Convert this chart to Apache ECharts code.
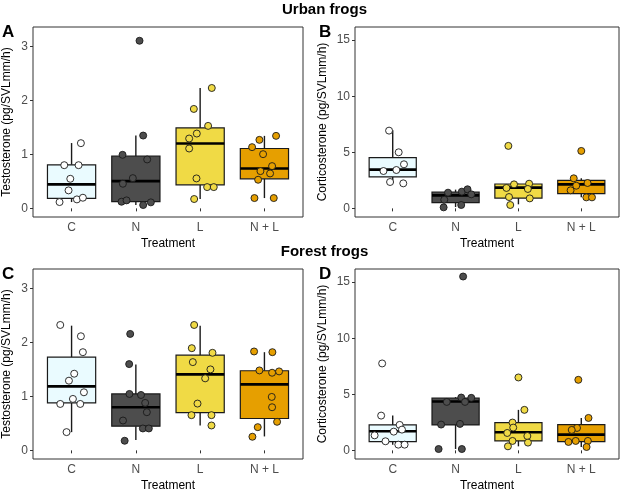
<!DOCTYPE html>
<html><head><meta charset="utf-8">
<script src="https://cdn.jsdelivr.net/npm/echarts@6/dist/echarts.min.js"></script>
<style>html,body{margin:0;padding:0;background:#fff}#c{width:623px;height:494px}</style>
</head><body><div id="c"></div>
<script>
// ---- data ----
const categories = ['C', 'N', 'L', 'N + L'];
const categoryPositions = [1, 2, 3, 4];
const testoTicks = [0, 1, 2, 3];
const cortTicks = [0, 5, 10, 15];

// box stats per treatment: [lower whisker, Q1, median, Q3, upper whisker]
const urbanTestoBox = [
  [0.117, 0.185, 0.444, 0.807, 1.21],
  [0.062, 0.123, 0.505, 0.967, 1.35],
  [0.173, 0.437, 1.201, 1.491, 2.23],
  [0.191, 0.548, 0.739, 1.109, 1.343]
];
const urbanCortBox = [
  [2.23, 2.80, 3.45, 4.52, 6.96],
  [0.12, 0.51, 1.16, 1.46, 1.67],
  [0.36, 0.92, 1.85, 2.17, 2.20],
  [0.98, 1.31, 2.14, 2.50, 2.68]
];
const forestTestoBox = [
  [0.338, 0.879, 1.186, 1.727, 2.31],
  [0.19, 0.449, 0.799, 1.045, 1.592],
  [0.461, 0.701, 1.408, 1.764, 2.31],
  [0.258, 0.59, 1.223, 1.475, 1.819]
];
const forestCortBox = [
  [0.51, 0.78, 1.70, 2.27, 3.10],
  [0.12, 2.27, 4.35, 4.65, 4.75],
  [0.36, 0.84, 1.61, 2.48, 3.61],
  [0.30, 0.78, 1.40, 2.30, 2.89]
];

// individual jittered observations: [jittered treatment position, value]
const urbanTestoC = [[0.813,0.117],[0.886,0.80],[1.109,0.80],[0.98,0.548],[0.953,0.333],[1.083,0.166],[1.176,0.197],[1.145,1.208]];
const urbanTestoN = [[2.057,3.105],[2.114,1.349],[1.793,0.992],[2.176,0.906],[1.953,0.56],[1.798,0.456],[1.777,0.123],[1.855,0.148],[2.114,0.062],[2.233,0.111]];
const urbanTestoL = [[3.181,2.23],[2.902,1.842],[3.124,1.528],[2.948,1.386],[2.829,1.294],[2.829,1.109],[2.943,0.555],[2.907,0.173],[3.109,0.394],[3.212,0.394]];
const urbanTestoNL = [[4.181,1.343],[3.922,1.269],[3.808,1.134],[3.979,1.004],[4.119,0.783],[3.938,0.69],[4.088,0.647],[3.902,0.53],[3.845,0.191],[4.145,0.191]];

const urbanCortC = [[0.942,6.93],[1.095,5.0],[1.179,3.93],[0.853,3.33],[1.058,3.42],[0.958,2.35],[1.168,2.23]];
const urbanCortN = [[1.81,0.09],[1.82,0.77],[1.88,1.40],[2.10,1.49],[2.19,1.70],[2.25,1.25],[2.09,0.30]];
const urbanCortL = [[2.84,5.57],[2.93,2.14],[3.17,2.20],[2.81,1.82],[3.15,1.73],[2.85,1.01],[3.18,0.89],[2.87,0.30]];
const urbanCortNL = [[4.0,5.12],[3.88,2.68],[4.10,2.26],[3.92,2.02],[3.83,1.61],[4.08,0.98],[4.17,0.98]];

const forestTestoC = [[0.824,2.323],[1.145,2.114],[1.176,1.819],[1.041,1.42],[0.959,1.291],[1.192,1.076],[1.021,0.953],[0.824,0.86],[1.135,0.86],[0.922,0.338]];
const forestTestoN = [[1.912,2.157],[1.896,1.598],[1.90,1.045],[2.08,1.026],[2.145,0.879],[2.171,0.707],[1.80,0.553],[2.109,0.406],[2.202,0.406],[1.826,0.178]];
const forestTestoL = [[2.907,2.323],[2.870,1.893],[3.192,1.807],[2.886,1.635],[3.16,1.5],[3.078,1.334],[2.959,0.867],[2.865,0.652],[3.176,0.652],[3.176,0.461]];
const forestTestoNL = [[3.839,1.832],[4.124,1.819],[3.922,1.481],[4.119,1.438],[4.228,1.463],[4.114,0.99],[4.119,0.799],[4.197,0.529],[3.896,0.43],[3.813,0.252]];

const forestCortC = [[0.832,7.75],[0.816,3.10],[1.11,2.27],[0.712,1.34],[1.147,1.85],[1.016,1.67],[0.885,0.81],[1.089,0.51],[1.189,0.51]];
const forestCortN = [[2.12,15.5],[2.09,4.71],[2.25,4.68],[1.86,4.32],[2.15,4.32],[1.77,2.30],[2.07,2.36],[1.73,0.12],[2.10,0.12]];
const forestCortL = [[3.0,6.50],[3.095,3.61],[2.906,2.48],[2.917,2.03],[2.822,1.55],[3.142,1.28],[2.906,0.84],[3.152,0.69],[2.833,0.36]];
const forestCortNL = [[3.953,6.29],[4.115,2.89],[3.932,2.0],[3.848,1.82],[3.796,0.75],[3.911,0.84],[4.105,0.84],[4.084,0.30]];

// ---- styles ----
const boxFills = ['#EAFBFF', '#4D4D4D', '#F0DA45', '#E69F00'];
const pointFills = ['#FFFFFF', '#4D4D4D', '#F0DA45', '#E69F00'];
const FONT = 'Liberation Sans, Arial, Helvetica, sans-serif';
const BOX_HALF = 0.375;

const grids = [
  {left: 32, top: 27, width: 271, height: 190},
  {left: 355, top: 27, width: 264, height: 190},
  {left: 32, top: 269, width: 271, height: 190},
  {left: 355, top: 269, width: 264, height: 190}
];
const panels = [
  {box: urbanTestoBox, pts: [urbanTestoC, urbanTestoN, urbanTestoL, urbanTestoNL], ymin: -0.16, ymax: 3.36, ticks: testoTicks, yname: 'Testosterone (pg/SVLmm/h)'},
  {box: urbanCortBox, pts: [urbanCortC, urbanCortN, urbanCortL, urbanCortNL], ymin: -0.77, ymax: 16.17, ticks: cortTicks, yname: 'Corticosterone (pg/SVLmm/h)'},
  {box: forestTestoBox, pts: [forestTestoC, forestTestoN, forestTestoL, forestTestoNL], ymin: -0.16, ymax: 3.36, ticks: testoTicks, yname: 'Testosterone (pg/SVLmm/h)'},
  {box: forestCortBox, pts: [forestCortC, forestCortN, forestCortL, forestCortNL], ymin: -0.77, ymax: 16.17, ticks: cortTicks, yname: 'Corticosterone (pg/SVLmm/h)'}
];

function renderBox(params, api) {
  const i = params.dataIndex;
  const x = api.value(0);
  const lo = api.value(1), q1 = api.value(2), med = api.value(3), q3 = api.value(4), hi = api.value(5);
  const pHi = api.coord([x, hi]), pQ3 = api.coord([x, q3]), pQ1 = api.coord([x, q1]), pLo = api.coord([x, lo]);
  const l = api.coord([x - BOX_HALF, med])[0], r = api.coord([x + BOX_HALF, med])[0];
  const yMed = api.coord([x, med])[1];
  return {type: 'group', children: [
    {type: 'line', shape: {x1: pHi[0], y1: pHi[1], x2: pQ3[0], y2: pQ3[1]}, style: {stroke: '#1a1a1a', lineWidth: 1.4}},
    {type: 'line', shape: {x1: pLo[0], y1: pLo[1], x2: pQ1[0], y2: pQ1[1]}, style: {stroke: '#1a1a1a', lineWidth: 1.4}},
    {type: 'rect', shape: {x: l, y: pQ3[1], width: r - l, height: pQ1[1] - pQ3[1]}, style: {fill: boxFills[i], stroke: '#1a1a1a', lineWidth: 1.2}},
    {type: 'line', shape: {x1: l, y1: yMed, x2: r, y2: yMed}, style: {stroke: '#000', lineWidth: 2.6}}
  ]};
}

const xAxes = [], yAxes = [], series = [];
panels.forEach((p, k) => {
  xAxes.push({
    type: 'value', gridIndex: k, min: 0.4, max: 4.6,
    name: 'Treatment', nameLocation: 'middle', nameGap: 21,
    nameTextStyle: {fontFamily: FONT, fontSize: 12, color: '#000'},
    axisLine: {show: false}, splitLine: {show: false},
    axisTick: {show: true, length: 3, lineStyle: {color: '#333'}, customValues: categoryPositions},
    axisLabel: {customValues: categoryPositions, margin: 5, fontFamily: FONT, fontSize: 12, color: '#4D4D4D',
      formatter: v => categories[Math.round(v) - 1]}
  });
  yAxes.push({
    type: 'value', gridIndex: k, min: p.ymin, max: p.ymax,
    name: p.yname, nameLocation: 'middle', nameGap: k % 2 === 0 ? 20 : 26,
    nameTextStyle: {fontFamily: FONT, fontSize: 12, color: '#000'},
    axisLine: {show: false}, splitLine: {show: false},
    axisTick: {show: true, length: 3, lineStyle: {color: '#333'}, customValues: p.ticks},
    axisLabel: {customValues: p.ticks, margin: 5, fontFamily: FONT, fontSize: 12, color: '#4D4D4D'}
  });
  series.push({
    type: 'custom', xAxisIndex: k, yAxisIndex: k, renderItem: renderBox,
    encode: {x: 0, y: [1, 2, 3, 4, 5]}, z: 2, silent: true,
    data: p.box.map((s, i) => [categoryPositions[i]].concat(s))
  });
  p.pts.forEach((pts, i) => {
    series.push({
      type: 'scatter', xAxisIndex: k, yAxisIndex: k, z: 3, symbol: 'circle', symbolSize: 7,
      itemStyle: {color: pointFills[i], borderColor: '#1a1a1a', borderWidth: 0.9, opacity: 1},
      data: pts
    });
  });
});

const chart = echarts.init(document.getElementById('c'), null, {renderer: 'canvas'});
chart.setOption({
  animation: false,
  backgroundColor: '#fff',
  grid: grids.map(g => Object.assign({show: true, borderColor: '#333', borderWidth: 1, backgroundColor: 'transparent'}, g)),
  xAxis: xAxes, yAxis: yAxes, series: series,
  graphic: [
    {type: 'text', x: 324.5, y: 10, style: {text: 'Urban frogs', font: 'bold 15px ' + FONT, align: 'center', verticalAlign: 'middle', fill: '#000'}},
    {type: 'text', x: 324.5, y: 252, style: {text: 'Forest frogs', font: 'bold 15px ' + FONT, align: 'center', verticalAlign: 'middle', fill: '#000'}},
    {type: 'text', x: 2, y: 32, style: {text: 'A', font: 'bold 17px ' + FONT, verticalAlign: 'middle', fill: '#000'}},
    {type: 'text', x: 319, y: 32, style: {text: 'B', font: 'bold 17px ' + FONT, verticalAlign: 'middle', fill: '#000'}},
    {type: 'text', x: 2, y: 274, style: {text: 'C', font: 'bold 17px ' + FONT, verticalAlign: 'middle', fill: '#000'}},
    {type: 'text', x: 319, y: 274, style: {text: 'D', font: 'bold 17px ' + FONT, verticalAlign: 'middle', fill: '#000'}}
  ]
});
</script></body></html>
